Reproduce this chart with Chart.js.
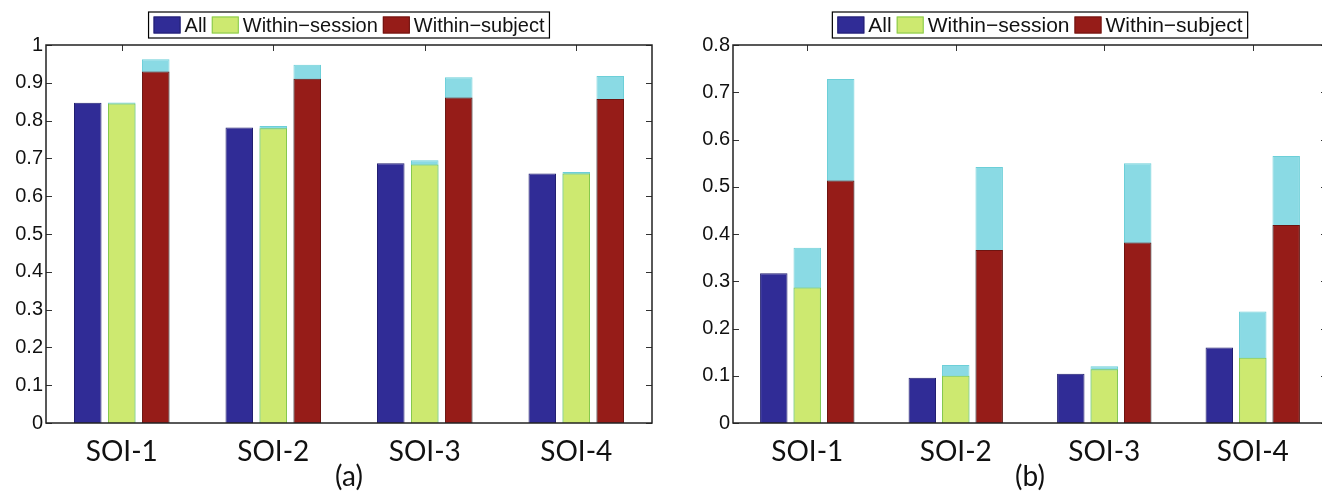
<!DOCTYPE html>
<html>
<head>
<meta charset="utf-8">
<title>SOI accuracy</title>
<script src="https://cdn.jsdelivr.net/npm/chart.js@4.4.1/dist/chart.umd.min.js"></script>
<style>
  html, body { margin: 0; padding: 0; background: #fff; overflow: hidden; width: 1322px; height: 492px; }
  canvas { position: absolute; top: 0; }
  #chart-a { left: 0; }
  #chart-b { left: 661px; }
</style>
</head>
<body>
<canvas id="chart-a" width="661" height="492"></canvas>
<canvas id="chart-b" width="680" height="492"></canvas>
<script>
const categories = ["SOI-1", "SOI-2", "SOI-3", "SOI-4"]
const seriesNames = ["All", "Within\u2212session", "Within\u2212subject"]

// panel (a)
const allA = [0.847, 0.782, 0.687, 0.660]
const sessionA = [0.845, 0.780, 0.684, 0.660]
const sessionTopA = [0.848, 0.786, 0.695, 0.664]
const subjectA = [0.930, 0.911, 0.861, 0.857]
const subjectTopA = [0.962, 0.948, 0.915, 0.918]
const yTicksA = [0, 0.1, 0.2, 0.3, 0.4, 0.5, 0.6, 0.7, 0.8, 0.9, 1]
const yLabelsA = ["0", "0.1", "0.2", "0.3", "0.4", "0.5", "0.6", "0.7", "0.8", "0.9", "1"]

// panel (b)
const allB = [0.317, 0.096, 0.104, 0.160]
const sessionB = [0.287, 0.100, 0.114, 0.138]
const sessionTopB = [0.371, 0.123, 0.120, 0.236]
const subjectB = [0.513, 0.366, 0.382, 0.419]
const subjectTopB = [0.728, 0.542, 0.550, 0.565]
const yTicksB = [0, 0.1, 0.2, 0.3, 0.4, 0.5, 0.6, 0.7, 0.8]
const yLabelsB = ["0", "0.1", "0.2", "0.3", "0.4", "0.5", "0.6", "0.7", "0.8"]

const colors = {
  all: ["#302c96", "#221f70"],
  session: ["#cde970", "#86c94c"],
  subject: ["#961c18", "#6e1410"],
  extra: ["#8adae4", "#6ccfd8"],
}

function bar(label, data, stack, color, inLegend) {
  return {
    label,
    data,
    stack,
    inLegend,
    backgroundColor: color[0],
    borderColor: color[1],
    borderWidth: 1,
  }
}

// inward tick marks, box frame and boxed legend
const matlabAxes = {
  id: "matlabAxes",
  beforeDatasetsDraw(chart) {
    const { ctx, chartArea: a, scales: { x, y } } = chart
    ctx.save()
    ctx.strokeStyle = "#333"
    ctx.lineWidth = 1
    ctx.beginPath()
    y.ticks.forEach((t) => {
      const py = Math.round(y.getPixelForValue(t.value)) + 0.5
      ctx.moveTo(a.left, py)
      ctx.lineTo(a.left + 6, py)
      ctx.moveTo(a.right - 6, py)
      ctx.lineTo(a.right, py)
    })
    categories.forEach((c, i) => {
      const px = Math.round(x.getPixelForValue(i)) + 0.5
      ctx.moveTo(px, a.top)
      ctx.lineTo(px, a.top + 6)
      ctx.moveTo(px, a.bottom)
      ctx.lineTo(px, a.bottom - 6)
    })
    ctx.stroke()
    ctx.restore()
  },
  afterDatasetsDraw(chart) {
    const { ctx, chartArea: a } = chart
    ctx.save()
    ctx.strokeStyle = "#222"
    ctx.lineWidth = 1.5
    ctx.strokeRect(a.left, a.top, a.right - a.left, a.bottom - a.top)
    ctx.restore()
  },
  afterDraw(chart, args, opts) {
    const { ctx, chartArea: a } = chart
    const items = chart.data.datasets.filter((d) => d.inLegend)
    const sw = 27, sh = 17, gap = 4, pad = 5, h = 26, top = 12
    ctx.save()
    ctx.font = `${opts.fontSize}px "Liberation Sans", Arial, sans-serif`
    const widths = items.map((d) => ctx.measureText(d.label).width)
    const total = pad + widths.reduce((s, w) => s + sw + gap + w + pad, 0)
    const x0 = (a.left + a.right) / 2 + opts.shift - total / 2
    ctx.fillStyle = "#fff"
    ctx.fillRect(x0, top, total, h)
    ctx.strokeStyle = "#000"
    ctx.lineWidth = 1.2
    ctx.strokeRect(x0, top, total, h)
    let x = x0 + pad
    items.forEach((d, i) => {
      ctx.fillStyle = d.backgroundColor
      ctx.fillRect(x, top + (h - sh) / 2, sw, sh)
      ctx.strokeStyle = d.borderColor
      ctx.lineWidth = 1
      ctx.strokeRect(x + 0.5, top + (h - sh) / 2 + 0.5, sw - 1, sh - 1)
      ctx.fillStyle = "#111"
      ctx.textBaseline = "middle"
      ctx.fillText(d.label, x + sw + gap, top + h / 2 + 1)
      x += sw + gap + widths[i] + pad
    })
    ctx.restore()
  },
}

function makeChart(id, p) {
  const datasets = [
    bar(seriesNames[0], p.all, "all", colors.all, true),
    bar(seriesNames[1], p.session, "session", colors.session, true),
    bar(seriesNames[2], p.subject, "subject", colors.subject, true),
    bar("session extra", p.sessionTop, "session", colors.extra, false),
    bar("subject extra", p.subjectTop, "subject", colors.extra, false),
  ]
  return new Chart(document.getElementById(id), {
    type: "bar",
    data: { labels: categories, datasets },
    plugins: [matlabAxes],
    options: {
      responsive: false,
      animation: false,
      layout: { padding: { top: 45, right: p.padRight, left: 0, bottom: 0 } },
      datasets: { bar: { categoryPercentage: p.catPct, barPercentage: p.barPct } },
      plugins: {
        legend: { display: false },
        tooltip: { enabled: false },
        matlabAxes: { fontSize: p.legendSize, shift: p.legendShift },
      },
      scales: {
        x: {
          stacked: true,
          grid: { display: false, drawTicks: false },
          border: { display: false },
          ticks: { font: { family: "Lato", size: 28 }, color: "#111", padding: 12 },
          title: {
            display: true,
            text: p.caption,
            font: { family: "Lato", size: 28, lineHeight: 1 },
            color: "#111",
            padding: { top: 0, bottom: 1 },
          },
          afterFit(s) { s.height = 69 },
        },
        y: {
          stacked: false,
          min: p.yTicks[0],
          max: p.yTicks[p.yTicks.length - 1],
          grid: { display: false, drawTicks: false },
          border: { display: false },
          afterBuildTicks(s) { s.ticks = p.yTicks.map((v) => ({ value: v })) },
          ticks: {
            autoSkip: false,
            callback: (v, i) => p.yLabels[i],
            font: { family: "Liberation Sans", size: 20 },
            color: "#111",
            padding: 3,
          },
          afterFit(s) { s.width = p.axisWidth },
        },
      },
    },
  })
}

makeChart("chart-a", {
  all: allA, session: sessionA, sessionTop: sessionTopA, subject: subjectA, subjectTop: subjectTopA,
  yTicks: yTicksA, yLabels: yLabelsA, caption: "(a)",
  axisWidth: 46, padRight: 9, catPct: 0.673, barPct: 0.81, legendSize: 20, legendShift: 0,
})

makeChart("chart-b", {
  all: allB, session: sessionB, sessionTop: sessionTopB, subject: subjectB, subjectTop: subjectTopB,
  yTicks: yTicksB, yLabels: yLabelsB, caption: "(b)",
  axisWidth: 72, padRight: 14, catPct: 0.676, barPct: 0.82, legendSize: 21, legendShift: 10,
})
</script>
</body>
</html>
